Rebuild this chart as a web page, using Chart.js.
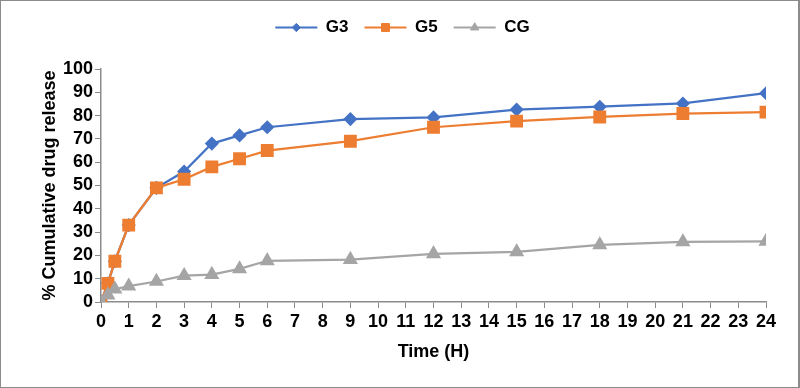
<!DOCTYPE html>
<html lang="en">
<head>
  <meta charset="UTF-8" />
  <title>Cumulative drug release</title>
  <script src="https://cdn.jsdelivr.net/npm/chart.js"></script>
  <style>
    body { margin: 0; background: #fff; }
    #wrap {
      width: 800px; height: 388px;
      box-sizing: border-box;
      border: 1px solid #8c8c8c;
      border-right-width: 2px;
    }
  </style>
</head>
<body>
  <div id="wrap"><canvas id="releaseChart" width="797" height="386"></canvas></div>

  <script>
    // sampling times in hours
    const times = [0, 0.25, 0.5, 1, 2, 3, 4, 5, 6, 9, 12, 15, 18, 21, 24];
    const g3 = [0, 8, 17.5, 33, 49, 56, 68, 71.5, 75, 78.5, 79.2, 82.6, 83.8, 85.2, 89.6];
    const g5 = [0, 8, 17.5, 33, 49, 52.7, 58, 61.5, 65, 69, 75, 77.6, 79.4, 80.9, 81.5];
    const cg = [0, 3, 5.5, 6.8, 8.8, 11.3, 11.8, 14.2, 17.7, 18.2, 20.7, 21.5, 24.5, 25.8, 26];

    const blue = "#4472C4", orange = "#ED7D31", grey = "#A5A5A5";
    const axisGrey = "#8c8c8c";
    const family = "'Liberation Sans', Arial, sans-serif";
    const tickFont = { family: family, size: 18, weight: "bold" };
    const titleFont = { family: family, size: 18, weight: "bold" };
    const legendFont = { family: family, size: 17, weight: "bold" };

    function toXY(ys) {
      return times.map((t, i) => ({ x: t, y: ys[i] }));
    }

    // legend: extra room below it, centred over the plot, marker on each line
    const legendExtras = {
      id: "legendExtras",
      beforeLayout(chart) {
        const lg = chart.legend;
        if (lg && !lg._extraRoom) {
          const fit = lg.fit;
          lg.fit = function () {
            fit.call(this);
            this.height += 23;
          };
          lg._extraRoom = true;
        }
      },
      afterLayout(chart) {
        if (chart.legend) chart.legend.left += 38;
      },
      afterDraw(chart) {
        const lg = chart.legend;
        if (!lg || !lg.legendHitBoxes) return;
        const ctx = chart.ctx;
        lg.legendHitBoxes.forEach((box, i) => {
          const ds = chart.data.datasets[i];
          const bw = lg.options.labels.boxWidth;
          ctx.save();
          ctx.fillStyle = ds.borderColor;
          ctx.strokeStyle = ds.borderColor;
          Chart.helpers.drawPoint(ctx, {
            pointStyle: ds.pointStyle,
            radius: ds.pointRadius * 0.75,
            rotation: 0,
            borderWidth: 1
          }, box.left + bw / 2, box.top + box.height / 2);
          ctx.restore();
        });
      }
    };

    const ctx = document.getElementById("releaseChart").getContext("2d");
    new Chart(ctx, {
      type: "line",
      data: {
        datasets: [
          { label: "G3", data: toXY(g3), borderColor: blue, backgroundColor: blue, order: 3,
            borderWidth: 2.25, pointStyle: "rectRot", pointRadius: 5.5, pointHoverRadius: 5.5 },
          { label: "G5", data: toXY(g5), borderColor: orange, backgroundColor: orange, order: 2,
            borderWidth: 2.25, pointStyle: "rect", pointRadius: 7.5, pointHoverRadius: 7.5 },
          { label: "CG", data: toXY(cg), borderColor: grey, backgroundColor: grey, order: 1,
            borderWidth: 2.25, pointStyle: "triangle", pointRadius: 6.5, pointHoverRadius: 6.5 }
        ]
      },
      options: {
        responsive: false,
        animation: false,
        layout: { padding: { top: 2, right: 32, left: 0, bottom: 0 } },
        plugins: {
          legend: {
            display: true,
            position: "top",
            labels: {
              boxWidth: 42,
              boxHeight: 0,
              padding: 16,
              color: "#000",
              font: legendFont,
              generateLabels(chart) {
                return chart.data.datasets.map((ds, i) => ({
                  text: ds.label,
                  fillStyle: ds.borderColor,
                  strokeStyle: ds.borderColor,
                  lineWidth: 2,
                  datasetIndex: i
                }));
              }
            }
          },
          tooltip: { enabled: false }
        },
        scales: {
          x: {
            type: "linear",
            min: 0,
            max: 24,
            afterFit(scale) { scale.height = 85; },
            ticks: { stepSize: 1, color: "#000", font: tickFont, padding: 3, maxRotation: 0, autoSkip: false },
            grid: { drawOnChartArea: false, drawTicks: true, tickLength: 6, color: axisGrey },
            border: { color: axisGrey, width: 1.5 },
            title: { display: true, text: "Time (H)", color: "#000", font: titleFont, padding: { top: 0, bottom: 24 } }
          },
          y: {
            min: 0,
            max: 100,
            afterFit(scale) { scale.width = 100; },
            ticks: { stepSize: 10, color: "#000", font: tickFont, padding: 2, autoSkip: false },
            grid: { drawOnChartArea: false, drawTicks: true, tickLength: 6, color: axisGrey },
            border: { color: axisGrey, width: 1.5 },
            title: { display: true, text: "% Cumulative drug release", color: "#000", font: titleFont, padding: { top: 38, bottom: 0 } }
          }
        }
      },
      plugins: [legendExtras]
    });
  </script>
</body>
</html>
